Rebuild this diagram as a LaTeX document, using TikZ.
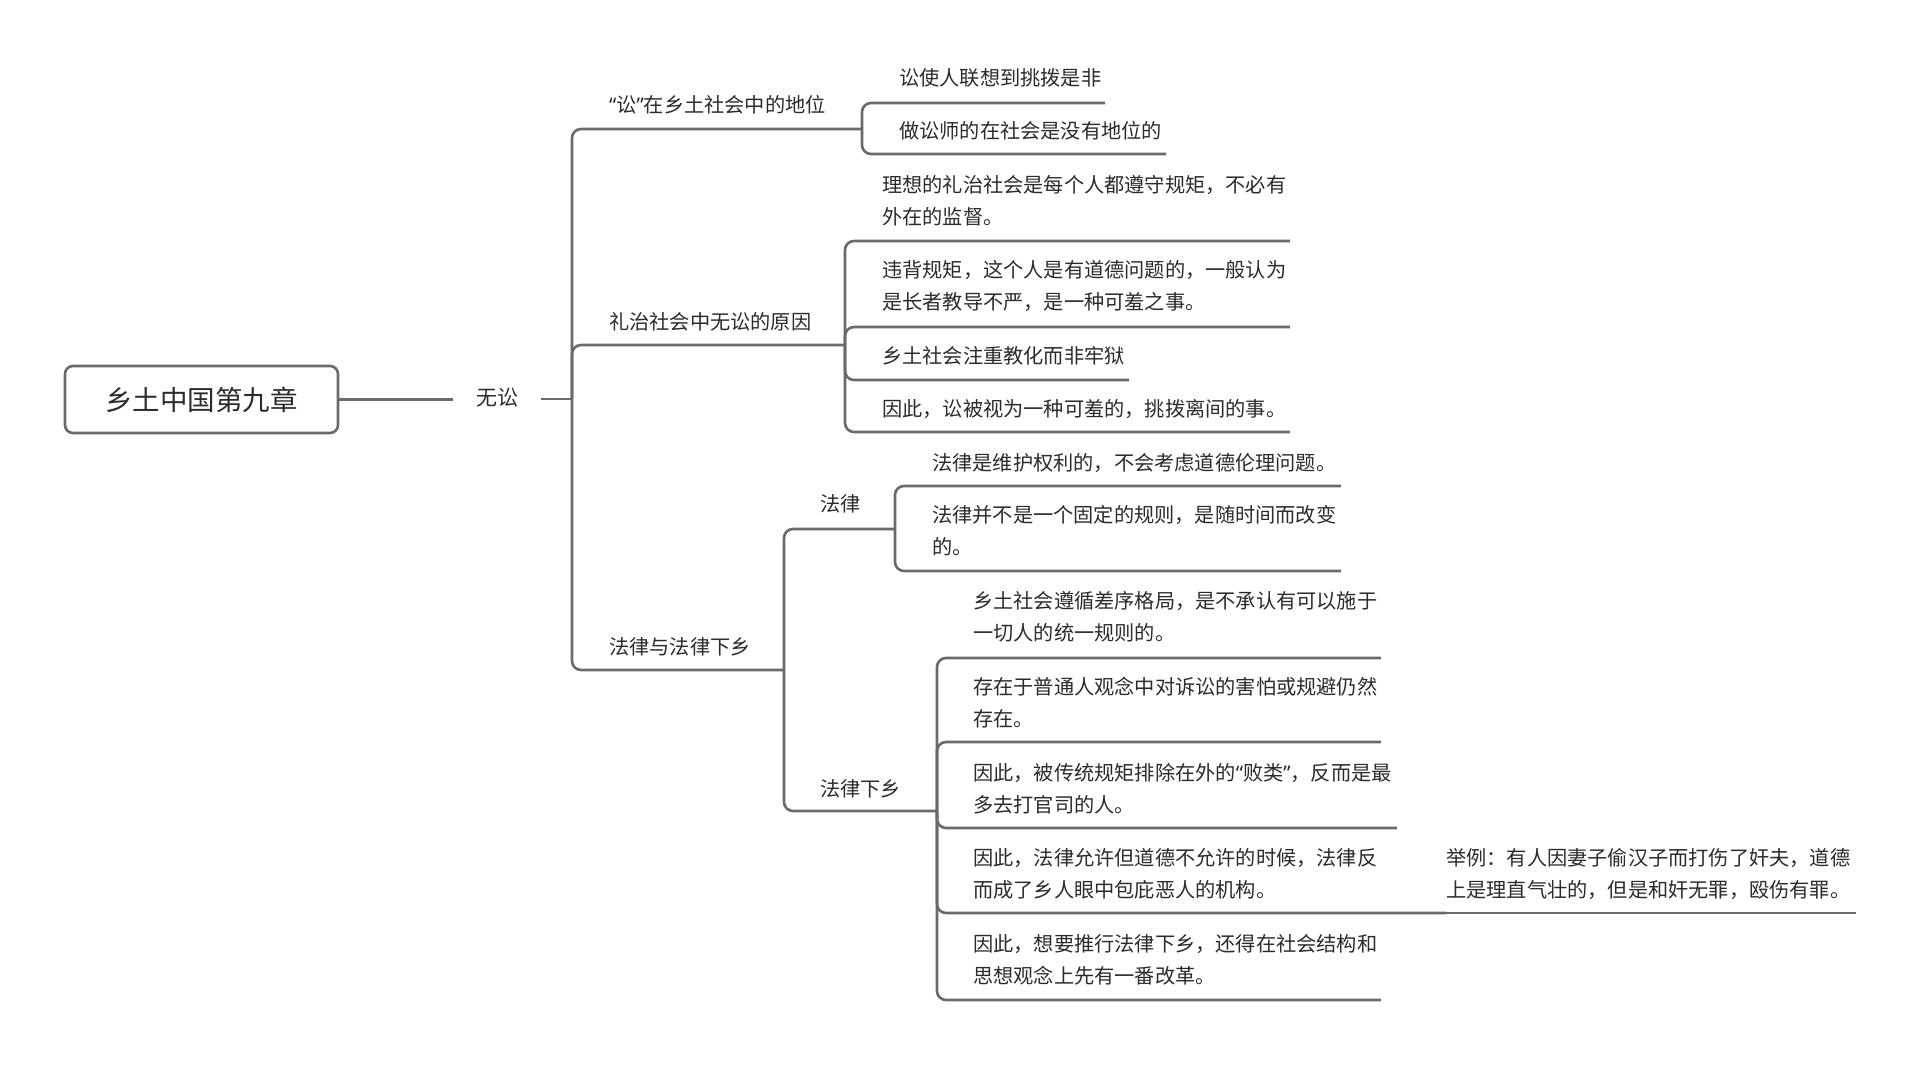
\documentclass[tikz,border=0pt]{standalone}
\usepackage{fontspec}
\newfontfamily\cjk{Noto Sans CJK SC}
\newfontfamily\latn{Noto Sans}
\definecolor{linegray}{HTML}{6A6A6A}
\definecolor{txtgray}{HTML}{2B2B2B}
\newcommand{\myLq}{{\latn “}}
\newcommand{\myRq}{{\latn ”}}
\begin{document}
\begin{tikzpicture}[x=1pt,y=-1pt,
  conn/.style={draw=linegray,line width=2.6pt,rounded corners=9pt},
  straight/.style={draw=linegray,line width=2.6pt},
  leaf/.style={anchor=west,inner sep=0pt,text=txtgray,align=left,font=\cjk\fontsize{20.2}{32}\selectfont},
  rootbox/.style={draw=linegray,line width=2.6pt,rounded corners=8pt,text=txtgray,font=\cjk\fontsize{27.5}{32}\selectfont,minimum width=273pt,minimum height=67pt,inner sep=0pt}
]
\useasboundingbox[fill=white] (0,0) rectangle (1920,1065);

% root and level 1
\node[rootbox] (root) at (201.5,399.5) {乡土中国第九章};
\node[leaf,anchor=center,inner xsep=23pt,font=\cjk\fontsize{21}{32}\selectfont] (ws) at (497,398) {无讼};
\draw[straight] (root.east) -- (ws.west |- root.east);
\coordinate (J0) at (572,399);
\draw[straight] (ws.east |- J0) -- (J0);

\node[leaf] (A) at (609,105) {\myLq 讼\myRq 在乡土社会中的地位};
\node[leaf] (B) at (609,322) {礼治社会中无讼的原因};
\node[leaf] (C) at (609,647) {法律与法律下乡};
\coordinate (A-end) at (862,129);
\coordinate (B-end) at (845,345);
\coordinate (C-end) at (784,670);
\draw[conn] (J0) |- (A-end);
\draw[conn] (J0) |- (B-end);
\draw[conn] (J0) |- (C-end);

% A children
\node[leaf] (A1) at (899,78) {讼使人联想到挑拨是非};
\node[leaf] (A2) at (899,131) {做讼师的在社会是没有地位的};
\coordinate (A1-end) at (1105,103);
\coordinate (A2-end) at (1166,154);
\draw[conn] (A-end) |- (A1-end);
\draw[conn] (A-end) |- (A2-end);

% B children
\node[leaf] (B1) at (882,201) {理想的礼治社会是每个人都遵守规矩，不必有\\外在的监督。};
\node[leaf] (B2) at (882,286.5) {违背规矩，这个人是有道德问题的，一般认为\\是长者教导不严，是一种可羞之事。};
\node[leaf] (B3) at (882,356) {乡土社会注重教化而非牢狱};
\node[leaf] (B4) at (882,409) {因此，讼被视为一种可羞的，挑拨离间的事。};
\coordinate (B1-end) at (1290,241);
\coordinate (B2-end) at (1290,327);
\coordinate (B3-end) at (1129,380);
\coordinate (B4-end) at (1290,432);
\draw[conn] (B-end) |- (B1-end);
\draw[conn] (B-end) |- (B2-end);
\draw[conn] (B-end) |- (B3-end);
\draw[conn] (B-end) |- (B4-end);

% C children
\node[leaf] (C1) at (820,504) {法律};
\node[leaf] (C2) at (820,789) {法律下乡};
\coordinate (C1-end) at (895,529);
\coordinate (C2-end) at (937,811);
\draw[conn] (C-end) |- (C1-end);
\draw[conn] (C-end) |- (C2-end);

% C1 children
\node[leaf] (C1a) at (932,463) {法律是维护权利的，不会考虑道德伦理问题。};
\node[leaf] (C1b) at (932,531) {法律并不是一个固定的规则，是随时间而改变\\的。};
\coordinate (C1a-end) at (1341,486);
\coordinate (C1b-end) at (1341,571);
\draw[conn] (C1-end) |- (C1a-end);
\draw[conn] (C1-end) |- (C1b-end);

% C2 children
\node[leaf] (C2a) at (973,617) {乡土社会遵循差序格局，是不承认有可以施于\\一切人的统一规则的。};
\node[leaf] (C2b) at (973,703) {存在于普通人观念中对诉讼的害怕或规避仍然\\存在。};
\node[leaf] (C2c) at (973,789) {因此，被传统规矩排除在外的\myLq 败类\myRq ，反而是最\\多去打官司的人。};
\node[leaf] (C2d) at (973,874) {因此，法律允许但道德不允许的时候，法律反\\而成了乡人眼中包庇恶人的机构。};
\node[leaf] (C2e) at (973,960) {因此，想要推行法律下乡，还得在社会结构和\\思想观念上先有一番改革。};
\coordinate (C2a-end) at (1381,658);
\coordinate (C2b-end) at (1381,742);
\coordinate (C2c-end) at (1397,828);
\coordinate (C2d-end) at (1446,913);
\coordinate (C2e-end) at (1381,1000);
\draw[conn] (C2-end) |- (C2a-end);
\draw[conn] (C2-end) |- (C2b-end);
\draw[conn] (C2-end) |- (C2c-end);
\draw[conn] (C2-end) |- (C2d-end);
\draw[conn] (C2-end) |- (C2e-end);

% C2d child
\node[leaf] (C2d1) at (1446,874) {举例：有人因妻子偷汉子而打伤了奸夫，道德\\上是理直气壮的，但是和奸无罪，殴伤有罪。};
\coordinate (C2d1-end) at (1856,913);
\draw[straight] (C2d-end) -- (C2d1-end);
\end{tikzpicture}
\end{document}
